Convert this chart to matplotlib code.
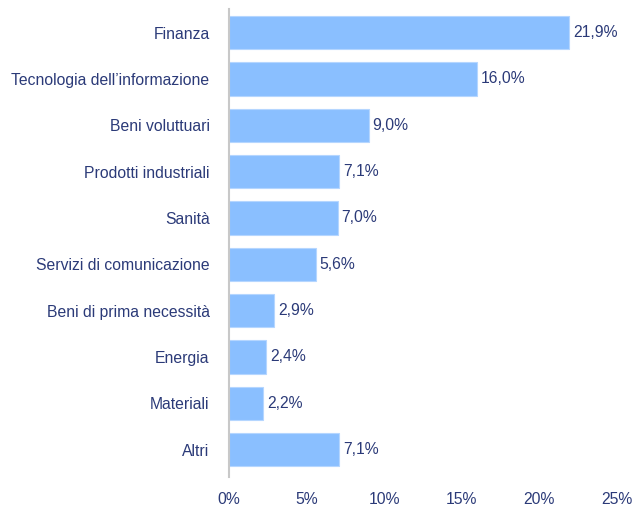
import matplotlib
matplotlib.use("Agg")
import matplotlib.pyplot as plt

# Settori e pesi (%)
settori = ["Finanza", "Tecnologia dell\u2019informazione", "Beni voluttuari",
           "Prodotti industriali", "Sanità", "Servizi di comunicazione",
           "Beni di prima necessità", "Energia", "Materiali", "Altri"]
pesi = [21.9, 16.0, 9.0, 7.1, 7.0, 5.6, 2.9, 2.4, 2.2, 7.1]
x_ticks = [0, 5, 10, 15, 20, 25]

navy = "#2b3a78"
azzurro = "#8abfff"

plt.rcParams["font.family"] = ["Liberation Sans", "DejaVu Sans"]

fig = plt.figure(figsize=(6.35, 5.08), dpi=100)
ax = fig.add_axes([229 / 635, 31 / 508, (617 - 229) / 635, 468 / 508])

pos = list(range(len(settori)))
ax.barh(pos, pesi, height=0.72, color=azzurro, edgecolor="#b5d6ff", linewidth=0.8)

for p, v in zip(pos, pesi):
    ax.text(v + 0.25, p, f"{v:.1f}%".replace(".", ","), va="center", ha="left",
            fontsize=11.3, color=navy)

ax.set_ylim(9.59, -0.51)
ax.set_xlim(0, 25)
ax.set_yticks(pos)
ax.set_yticklabels(settori)
ax.set_xticks(x_ticks)
ax.set_xticklabels([f"{t}%" for t in x_ticks])
ax.tick_params(axis="both", length=0, labelsize=11.3, labelcolor=navy)
ax.tick_params(axis="x", pad=11)
ax.tick_params(axis="y", pad=14)

for s in ["top", "right", "bottom"]:
    ax.spines[s].set_visible(False)
ax.spines["left"].set_color("#c8c8c8")
ax.spines["left"].set_linewidth(1.5)

fig.savefig("out.png", dpi=100)
